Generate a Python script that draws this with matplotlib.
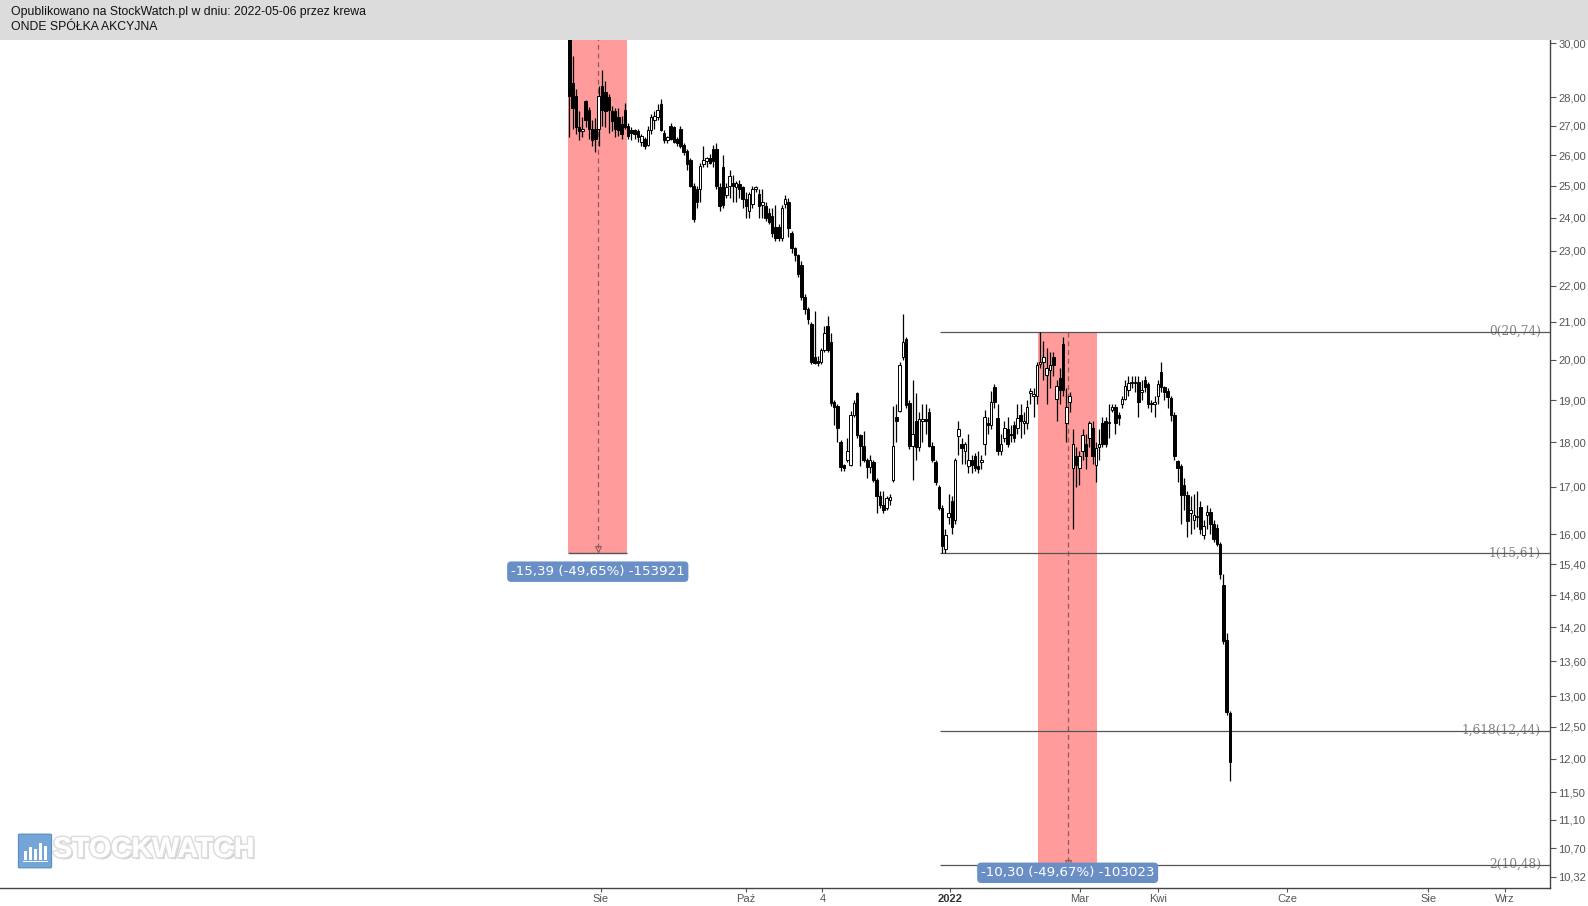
import matplotlib
matplotlib.use("Agg")
import matplotlib.pyplot as plt
import matplotlib.patheffects as pe
from matplotlib.patches import Rectangle, FancyBboxPatch
from matplotlib.ticker import FixedLocator, NullLocator

# ── ONDE daily candles, one entry per session ──
opens = [30.5, 28.5, 28.05, 26.97, 26.8, 27.85, 27.55, 26.9, 26.9, 26.9,
         28.4, 28.2, 28.0, 27.5, 27.5, 27.3, 27.05, 27.55, 27.0, 26.85,
         26.85, 26.8, 26.45, 26.55, 26.35, 26.85, 27.2, 27.3, 27.75, 26.75,
         26.5, 27.0, 26.95, 26.55, 26.9, 26.35, 26.15, 25.85, 25.0, 24.9,
         24.9, 25.7, 25.8, 25.9, 26.2, 26.2, 24.95, 25.6, 24.7, 25.0,
         25.1, 24.95, 25.05, 24.95, 24.57, 24.2, 24.41, 24.9, 24.73, 24.38,
         24.36, 24.15, 24.05, 23.7, 23.72, 23.37, 24.41, 24.5, 23.52, 23.07,
         22.87, 22.6, 21.67, 21.34, 20.93, 20.08, 19.98, 19.96, 20.26, 20.9,
         20.47, 18.95, 18.86, 18.0, 17.48, 17.6, 17.48, 18.64, 19.18, 18.16,
         17.92, 17.6, 17.44, 17.55, 17.16, 16.8, 16.6, 16.55, 16.72, 17.16,
         18.6, 18.74, 20.08, 20.55, 18.93, 17.92, 18.5, 17.9, 18.5, 18.55,
         18.7, 17.92, 17.55, 17.0, 16.55, 15.7, 16.35, 16.7, 16.3, 18.15,
         17.95, 17.8, 17.45, 17.6, 17.68, 17.45, 17.55, 17.95, 18.45, 18.4,
         19.31, 18.56, 17.8, 18.1, 18.3, 18.2, 18.4, 18.33, 18.63, 18.44,
         18.44, 19.18, 19.1, 19.1, 19.9, 19.96, 19.63, 19.75, 20.08, 19.03,
         19.55, 20.42, 18.44, 18.96, 17.42, 17.68, 17.42, 17.8, 17.95, 18.1,
         18.33, 17.49, 17.9, 18.44, 18.5, 18.44, 18.75, 18.83, 18.63, 18.91,
         19.03, 19.25, 19.43, 19.45, 19.45, 19.2, 19.5, 19.4, 18.93, 18.91,
         19.11, 19.7, 19.31, 19.22, 19.05, 18.63, 17.57, 17.45, 17.05, 16.83,
         16.45, 16.3, 16.35, 16.56, 15.99, 16.4, 16.47, 16.2, 16.13, 15.8,
         15.0, 13.97, 12.72]
highs = [31.0, 29.5, 28.3, 27.5, 27.3, 27.9, 27.65, 27.2, 27.25, 28.4,
         29.0, 28.6, 28.1, 27.7, 27.6, 27.6, 27.35, 27.8, 27.1, 26.95,
         26.9, 26.9, 26.7, 26.6, 27.0, 27.4, 27.5, 27.75, 27.95, 26.85,
         26.65, 27.1, 27.0, 26.6, 27.0, 26.4, 26.2, 25.9, 25.1, 25.0,
         25.75, 26.3, 25.95, 26.05, 26.35, 26.4, 25.1, 26.0, 25.1, 25.5,
         25.35, 25.15, 25.2, 25.0, 24.8, 24.8, 25.0, 25.0, 24.9, 24.9,
         24.5, 24.3, 24.3, 24.4, 23.8, 24.4, 24.7, 24.6, 23.6, 23.1,
         22.9, 22.7, 21.75, 21.4, 21.0, 21.3, 20.1, 20.3, 20.9, 21.15,
         20.7, 19.0, 18.9, 18.05, 17.5, 18.1, 18.74, 19.0, 19.2, 18.2,
         18.25, 17.65, 17.7, 17.6, 17.2, 16.9, 16.9, 16.8, 16.85, 18.86,
         18.9, 19.95, 21.2, 20.6, 19.0, 19.5, 19.18, 18.7, 18.9, 18.9,
         18.8, 18.0, 17.6, 17.05, 16.6, 16.1, 16.85, 16.8, 17.65, 18.5,
         18.1, 18.0, 18.2, 17.7, 17.75, 17.8, 17.7, 18.75, 18.6, 19.22,
         19.4, 18.9, 18.2, 18.5, 18.6, 18.4, 18.5, 18.9, 18.9, 18.7,
         19.0, 19.3, 19.3, 19.95, 20.74, 20.5, 20.3, 20.2, 20.2, 19.5,
         19.8, 20.6, 19.3, 19.2, 18.3, 17.9, 17.8, 18.3, 18.2, 18.5,
         18.5, 18.0, 18.3, 18.6, 18.6, 18.9, 18.9, 18.9, 18.7, 19.1,
         19.5, 19.6, 19.6, 19.6, 19.6, 19.5, 19.6, 19.45, 19.0, 19.1,
         19.5, 19.95, 19.35, 19.3, 19.1, 18.7, 17.6, 17.5, 17.2, 16.9,
         16.8, 16.85, 16.9, 16.7, 16.3, 16.6, 16.55, 16.3, 16.2, 15.85,
         15.2, 14.1, 12.75]
lows = [26.6, 26.9, 26.7, 26.5, 26.6, 26.95, 26.55, 26.3, 26.1, 26.3,
        27.0, 26.95, 26.75, 26.8, 26.6, 26.65, 26.55, 26.9, 26.55, 26.5,
        26.55, 26.45, 26.3, 26.2, 26.3, 26.7, 26.9, 27.2, 26.8, 26.4,
        26.4, 26.5, 26.4, 26.3, 26.25, 26.0, 25.5, 24.95, 23.85, 24.3,
        24.5, 25.6, 25.6, 25.7, 25.6, 24.9, 24.2, 24.3, 24.6, 24.6,
        24.5, 24.5, 24.6, 24.3, 24.0, 23.98, 24.3, 24.8, 23.98, 24.0,
        23.9, 23.8, 23.4, 23.3, 23.3, 23.3, 24.3, 23.4, 22.95, 22.7,
        22.25, 21.6, 21.2, 20.95, 19.9, 19.9, 19.85, 19.9, 20.2, 20.2,
        18.85, 18.4, 18.0, 17.35, 17.35, 17.55, 17.45, 18.6, 18.1, 17.45,
        17.55, 17.2, 17.3, 17.1, 16.45, 16.55, 16.45, 16.5, 16.6, 17.1,
        18.0, 18.7, 20.0, 18.8, 17.85, 17.16, 17.6, 17.8, 18.0, 18.2,
        17.9, 17.55, 17.05, 16.5, 15.61, 15.61, 16.2, 16.0, 16.2, 17.7,
        17.5, 17.5, 17.3, 17.3, 17.35, 17.3, 17.4, 17.7, 18.2, 18.3,
        18.8, 17.7, 17.7, 18.0, 17.9, 18.0, 18.0, 18.2, 18.1, 18.2,
        18.3, 18.9, 18.6, 18.9, 19.8, 19.5, 18.9, 19.3, 19.6, 18.5,
        18.9, 19.1, 18.0, 18.7, 16.1, 17.0, 17.05, 17.6, 17.4, 17.9,
        17.5, 17.1, 17.6, 17.9, 17.9, 18.1, 18.7, 18.2, 18.4, 18.8,
        19.0, 19.1, 19.3, 19.2, 18.6, 19.0, 19.2, 18.8, 18.7, 18.6,
        18.9, 19.2, 19.0, 18.8, 18.5, 17.6, 17.1, 16.2, 16.5, 15.95,
        16.0, 16.1, 16.15, 16.0, 15.9, 16.1, 16.0, 15.85, 15.75, 15.1,
        13.9, 12.7, 11.67]
closes = [28.05, 27.6, 26.97, 26.8, 26.9, 27.2, 26.9, 26.5, 26.55, 28.05,
          27.55, 27.5, 27.55, 27.15, 26.9, 26.85, 26.7, 26.95, 26.65, 26.75,
          26.7, 26.6, 26.65, 26.3, 26.85, 27.3, 27.35, 27.55, 26.85, 26.5,
          26.6, 26.55, 26.45, 26.4, 26.3, 26.1, 25.7, 25.0, 23.95, 24.5,
          25.65, 25.85, 25.9, 25.75, 25.8, 25.0, 24.35, 24.4, 24.95, 25.3,
          25.0, 25.1, 24.9, 24.57, 24.36, 24.73, 24.89, 24.97, 24.36, 24.47,
          23.98, 23.88, 23.52, 23.37, 23.37, 24.3, 24.57, 23.67, 23.07, 22.87,
          22.34, 21.67, 21.34, 21.07, 19.96, 19.93, 19.93, 20.26, 20.7, 20.26,
          18.93, 18.82, 18.32, 17.44, 17.42, 17.8, 18.64, 18.93, 18.16, 17.92,
          17.6, 17.44, 17.6, 17.16, 16.8, 16.62, 16.51, 16.75, 16.77, 17.92,
          18.5, 19.88, 20.46, 18.88, 17.92, 18.2, 17.9, 18.55, 18.55, 18.5,
          17.92, 17.6, 17.1, 16.55, 15.75, 15.98, 16.45, 16.14, 17.6, 18.3,
          17.86, 17.95, 17.6, 17.49, 17.42, 17.4, 17.6, 18.6, 18.4, 18.96,
          18.96, 17.8, 17.95, 18.33, 17.95, 18.17, 18.09, 18.56, 18.5, 18.5,
          18.83, 19.22, 19.15, 19.88, 19.96, 20.08, 19.8, 19.88, 19.88, 19.35,
          19.25, 19.25, 18.83, 19.1, 17.95, 17.49, 17.68, 18.17, 17.68, 18.44,
          17.68, 17.86, 17.95, 17.95, 17.95, 18.47, 18.83, 18.44, 18.56, 19.03,
          19.35, 19.43, 19.45, 19.43, 18.96, 19.25, 19.31, 18.91, 18.91, 18.96,
          19.4, 19.31, 19.2, 19.08, 18.63, 17.68, 17.42, 16.83, 16.83, 16.28,
          16.5, 16.4, 16.37, 16.1, 16.16, 16.47, 16.2, 15.9, 15.8, 15.2,
          13.95, 12.74, 11.95]

# price axis (log scale) and date labels (session index)
y_ticks = [30, 28, 27, 26, 25, 24, 23, 22, 21, 20, 19, 18, 17, 16, 15.4,
           14.8, 14.2, 13.6, 13, 12.5, 12, 11.5, 11.1, 10.7, 10.32]
x_tick_pos = [9.6, 53.9, 77.4, 116.5, 156.1, 180.0, 219.6, 262.7, 286.2]
x_tick_labels = ["Sie", "Paź", "4", "2022", "Mar", "Kwi", "Cze", "Sie", "Wrz"]

# Fibonacci levels drawn from the January low
fib_names = ["0", "1", "1,618", "2"]
fib_levels = [20.74, 15.61, 12.44, 10.48]

# price-range measurement boxes
meas_start = [-0.3, 143.4]
meas_end = [17.7, 161.4]
meas_top = [31.0, 20.74]
meas_bottom = [15.61, 10.44]
meas_label_y = [15.25, 10.37]
meas_text = ["-15,39 (-49,65%) -153921", "-10,30 (-49,67%) -103023"]

W, H = 1588, 906
fig = plt.figure(figsize=(W / 100, H / 100), dpi=100)
ax = fig.add_axes([0, 18 / H, 1550 / W, (888 - 40) / H])
ax.set_yscale("log")
ax.set_xlim(-174.1, 299.9)
ax.set_ylim(10.17, 30.13)

# ── measurement rectangles ──
for x0, x1, top, bot, ly, txt in zip(meas_start, meas_end, meas_top, meas_bottom,
                                     meas_label_y, meas_text):
    ax.add_patch(Rectangle((x0, bot), x1 - x0, top - bot, facecolor="#ff9b9b",
                           edgecolor="none", zorder=1))
    xm = (x0 + x1) / 2
    ax.plot([xm, xm], [top, bot], color="#8c5c5c", lw=0.9, ls=(0, (4, 3)), zorder=1.5)
    ax.hlines(bot, x0, x1, color="#555555", lw=1.0, zorder=1.5)
    ax.plot([xm], [bot * 1.006], marker="v", ms=4, mfc="none", mec="#8c5c5c",
            mew=0.8, zorder=1.5)
    ax.text(xm, ly, txt, ha="center", va="center", color="white",
            fontsize=9.6, family="DejaVu Sans", zorder=6,
            bbox=dict(boxstyle="round,pad=0.28,rounding_size=0.3",
                      fc="#6a8fc6", ec="none"))

# ── fib lines ──
for name, lvl in zip(fib_names, fib_levels):
    ax.text(297.1, lvl, f"{name}({lvl:.2f})".replace(".", ","), ha="right",
            va="center", color="#828282", fontsize=8.7,
            family="DejaVu Serif", zorder=2)
    ax.hlines(lvl, 113.4, 299.9, color="#555555", lw=0.9, zorder=3)

# ── candles ──
xs = list(range(len(closes)))
ax.vlines(xs, lows, highs, color="black", lw=0.9, zorder=4)
bottoms = [min(o, c) for o, c in zip(opens, closes)]
heights = [max(abs(c - o), 0.012) for o, c in zip(opens, closes)]
faces = ["white" if c > o else "black" for o, c in zip(opens, closes)]
ax.bar(xs, heights, bottom=bottoms, width=0.78, color=faces,
       edgecolor="black", linewidth=0.7, zorder=5)

# ── axes styling ──
for s in ["top", "left"]:
    ax.spines[s].set_visible(False)
for s in ["right", "bottom"]:
    ax.spines[s].set_color("#444444")
    ax.spines[s].set_linewidth(1.0)

ax.yaxis.tick_right()
ax.yaxis.set_major_locator(FixedLocator(y_ticks))
ax.yaxis.set_minor_locator(NullLocator())
ax.set_yticklabels([f"{v:.2f}".replace(".", ",") for v in y_ticks])
ax.tick_params(axis="y", which="major", direction="out", length=4, width=0.8,
               color="#555555", pad=2, labelsize=8, labelcolor="#555555")

ax.set_xticks(x_tick_pos)
ax.set_xticklabels(x_tick_labels)
ax.tick_params(axis="x", direction="out", length=3, width=0.8, color="#555555",
               pad=1.5, labelsize=8, labelcolor="#555555")
for lab in ax.get_xticklabels() + ax.get_yticklabels():
    lab.set_family(["Liberation Sans", "DejaVu Sans"])
for lab in ax.get_xticklabels():
    if lab.get_text() == "2022":
        lab.set_fontweight("bold")
        lab.set_color("#333333")

# ── header band ──
fig.patches.append(Rectangle((0, 1 - 40 / H), 1, 40 / H, transform=fig.transFigure,
                             facecolor="#dcdcdc", edgecolor="none", zorder=0))
fig.text(11 / W, 1 - 12.5 / H, "Opublikowano na StockWatch.pl w dniu: 2022-05-06 przez krewa",
         ha="left", va="center", fontsize=8.8, color="#111111",
         family=["Liberation Sans", "DejaVu Sans"])
fig.text(11 / W, 1 - 27.5 / H, "ONDE SPÓŁKA AKCYJNA", ha="left", va="center",
         fontsize=8.8, color="#111111", family=["Liberation Sans", "DejaVu Sans"])

# ── watermark logo ──
fig.patches.append(FancyBboxPatch((20 / W, (906 - 867) / H), 30 / W, 32 / H,
                                  boxstyle="round,pad=0.001", transform=fig.transFigure,
                                  facecolor="#5b97cf", edgecolor="#4a82b8", lw=0.8,
                                  alpha=0.85, zorder=1))
for bx, bh in zip([24, 29, 34, 39, 44], [9, 13, 11, 17, 14]):
    fig.patches.append(Rectangle((bx / W, (906 - 860) / H), 3 / W, bh / H,
                                 transform=fig.transFigure, facecolor="white",
                                 edgecolor="none", zorder=2))
fig.patches.append(Rectangle((23 / W, (906 - 862) / H), 25 / W, 1.5 / H,
                             transform=fig.transFigure, facecolor="white",
                             edgecolor="none", zorder=2))
wm = fig.text(53 / W, (906 - 850) / H, "STOCKWATCH", ha="left", va="center",
              fontsize=20.5, fontweight="bold", color="white",
              family=["Liberation Sans", "DejaVu Sans"], zorder=3)
wm.set_path_effects([pe.withSimplePatchShadow(offset=(1.5, -1.5), shadow_rgbFace="#bdbdbd",
                                              alpha=0.8),
                     pe.withStroke(linewidth=2.5, foreground="#dedede"), pe.Normal()])

fig.savefig("out.png", dpi=100, facecolor="white")
